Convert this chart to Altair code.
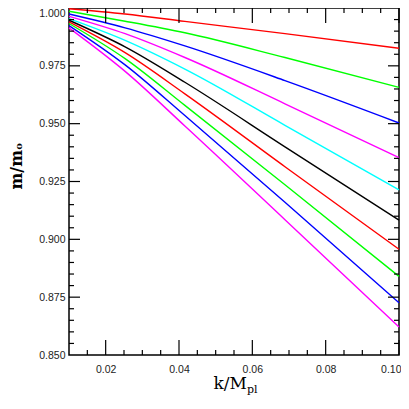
import altair as alt
import pandas as pd

k_values = [0.01, 0.0253, 0.0416, 0.0689, 0.10]
series_names = ["c01", "c02", "c03", "c04", "c05", "c06", "c07", "c08", "c09", "c10"]
series_colors = ["#ff0000", "#00ff00", "#0000ff", "#ff00ff", "#00ffff",
                 "#000000", "#ff0000", "#00ff00", "#0000ff", "#ff00ff"]
s01 = [0.9997, 0.9974, 0.9942, 0.9889, 0.9826]
s02 = [0.9986, 0.9943, 0.9893, 0.9786, 0.9657]
s03 = [0.9974, 0.9914, 0.9836, 0.9686, 0.9503]
s04 = [0.9964, 0.9889, 0.9786, 0.9586, 0.9353]
s05 = [0.9954, 0.9860, 0.9736, 0.9493, 0.9214]
s06 = [0.9947, 0.9832, 0.9679, 0.9400, 0.9083]
s07 = [0.9940, 0.9807, 0.9629, 0.9314, 0.8957]
s08 = [0.9933, 0.9781, 0.9579, 0.9236, 0.8840]
s09 = [0.9924, 0.9754, 0.9535, 0.9160, 0.8726]
s10 = [0.9914, 0.9726, 0.9490, 0.9085, 0.8621]
all_series = [s01, s02, s03, s04, s05, s06, s07, s08, s09, s10]

x_major = [0.02, 0.04, 0.06, 0.08, 0.10]
x_minor = [0.015, 0.025, 0.03, 0.035, 0.045, 0.05, 0.055, 0.065, 0.07, 0.075,
           0.085, 0.09, 0.095]
y_major = [0.875, 0.9, 0.925, 0.95, 0.975]
y_minor = [0.855, 0.86, 0.865, 0.87, 0.88, 0.885, 0.89, 0.895, 0.905, 0.91,
           0.915, 0.92, 0.93, 0.935, 0.94, 0.945, 0.955, 0.96, 0.965, 0.97,
           0.98, 0.985, 0.99, 0.995]
y_labels = [0.85, 0.875, 0.9, 0.925, 0.95, 0.975, 1.0]

W, H = 330, 347

rows = []
for name, vals in zip(series_names, all_series):
    for k, v in zip(k_values, vals):
        rows.append({"k": k, "m": v, "s": name})
df = pd.DataFrame(rows)

xs = alt.Scale(domain=[0.01, 0.10], nice=False, zero=False)
ys = alt.Scale(domain=[0.85, 1.0], nice=False, zero=False)
xaxis = alt.Axis(values=x_major, format=".2f", ticks=False, grid=False, title=None,
                 domain=False, labelPadding=9, labelFontSize=10.5,
                 labelFont="Liberation Sans", labelColor="#222",
                 labelFlush=True, labelFlushOffset=2)
yaxis = alt.Axis(values=y_labels, format=".3f", ticks=False, grid=False, title=None,
                 domain=False, labelPadding=4, labelFontSize=10.5,
                 labelFont="Liberation Sans", labelColor="#222",
                 labelBaseline=alt.condition("datum.value >= 0.999",
                                             alt.value("top"), alt.value("middle")))

lines = alt.Chart(df).mark_line(strokeWidth=1.4, interpolate="monotone").encode(
    x=alt.X("k:Q", scale=xs, axis=xaxis, title=None),
    y=alt.Y("m:Q", scale=ys, axis=yaxis, title=None),
    color=alt.Color("s:N", scale=alt.Scale(domain=series_names, range=series_colors),
                    legend=None),
)

def xticks(vals, length):
    d = pd.DataFrame({"k": vals})
    bot = alt.Chart(d).mark_rule(color="black", strokeWidth=1.2).encode(
        x=alt.X("k:Q", scale=xs, axis=xaxis, title=None),
        y=alt.value(H), y2=alt.value(H - length))
    top = alt.Chart(d).mark_rule(color="black", strokeWidth=1.2).encode(
        x=alt.X("k:Q", scale=xs, axis=xaxis, title=None),
        y=alt.value(0), y2=alt.value(length))
    return [bot, top]

def yticks(vals, length):
    d = pd.DataFrame({"m": vals})
    left = alt.Chart(d).mark_rule(color="black", strokeWidth=1.2).encode(
        y=alt.Y("m:Q", scale=ys, axis=yaxis, title=None),
        x=alt.value(0), x2=alt.value(length))
    right = alt.Chart(d).mark_rule(color="black", strokeWidth=1.2).encode(
        y=alt.Y("m:Q", scale=ys, axis=yaxis, title=None),
        x=alt.value(W), x2=alt.value(W - length))
    return [left, right]

tick_layers = xticks(x_major, 15) + xticks(x_minor, 5) + yticks(y_major, 11) + yticks(y_minor, 5)

title_df = pd.DataFrame({"a": [0]})
xt1 = alt.Chart(title_df).mark_text(font="DejaVu Serif", fontSize=17, align="right",
                                    baseline="alphabetic", color="black").encode(
    x=alt.value(178), y=alt.value(381), text=alt.value("k/M"))
xt2 = alt.Chart(title_df).mark_text(font="DejaVu Serif", fontSize=11, align="left",
                                    baseline="alphabetic", color="black").encode(
    x=alt.value(178), y=alt.value(385), text=alt.value("pl"))
yt = alt.Chart(title_df).mark_text(font="DejaVu Serif", fontSize=16, fontWeight="bold",
                                   angle=270, align="center", baseline="middle",
                                   color="black").encode(
    x=alt.value(-52), y=alt.value(158), text=alt.value("m/mₒ"))

chart = alt.layer(lines, *tick_layers, xt1, xt2, yt).properties(
    width=W, height=H,
    autosize=alt.AutoSizeParams(type="none"),
    padding={"left": 61, "top": 0, "right": 2, "bottom": 46},
).configure_view(stroke="black", strokeWidth=1.5)

chart.save("out.html", embed_options={"renderer": "svg", "actions": False})
